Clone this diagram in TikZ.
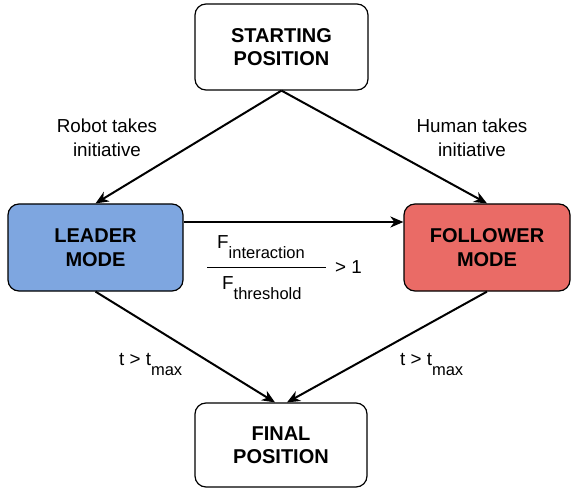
\documentclass[tikz,border=0pt]{standalone}
\usepackage{fontspec}
\setmainfont{Liberation Sans}
\usetikzlibrary{arrows.meta}
\definecolor{leaderblue}{HTML}{7EA6E0}
\definecolor{followerred}{HTML}{EA6B66}
\newcommand\subtxt[1]{\raisebox{-10pt}{\fontsize{16.5}{16.5}\selectfont #1}}
\tikzset{
  statebox/.style={draw=black, line width=1.2pt, rounded corners=11pt, inner sep=0pt,
    align=center, font=\fontsize{20}{23.5}\selectfont\bfseries},
  flow/.style={line width=2pt, -{Stealth[length=13pt,width=11pt,inset=4pt]}},
  lbl/.style={inner sep=0pt, align=center, font=\fontsize{18.8}{24}\selectfont},
  bar/.style={line width=1pt}
}
\begin{document}
\begin{tikzpicture}[x=1pt,y=-1pt]
\useasboundingbox (0,0) rectangle (573,489);
\node[statebox, fill=white, minimum width=173pt, minimum height=86pt] (start) at (281.5,47) {STARTING\\POSITION};
\node[statebox, fill=leaderblue, minimum width=175pt, minimum height=87pt] (leader) at (95.5,247.5) {LEADER\\MODE};
\node[statebox, fill=followerred, minimum width=166pt, minimum height=87pt] (follower) at (487,247.5) {FOLLOWER\\MODE};
\node[statebox, fill=white, minimum width=172pt, minimum height=84pt] (final) at (281,445) {FINAL\\POSITION};

\draw[flow] (start.south) -- (leader.north);
\draw[flow] (start.south) -- (follower.north);
\draw[flow] ([yshift=25.5pt]leader.east) -- ([yshift=25.5pt]follower.west);
\draw[flow] (leader.south) -- ([xshift=-6pt]final.north);
\draw[flow] (follower.south) -- ([xshift=6pt]final.north);

\node[lbl] (robot) at (107,138) {Robot takes\\initiative};
\node[lbl] (human) at (472,138) {Human takes\\initiative};

\node[lbl, anchor=base west] (num) at (217,248) {F\subtxt{interaction}};
\node[lbl, anchor=base west] (den) at (222,289) {F\subtxt{threshold}};
\coordinate (barl) at (207,267);
\coordinate (barr) at (326,267);
\draw[bar] (barl) -- (barr);
\node[lbl, anchor=west] (gt) at (335,267) {> 1};

\node[lbl, anchor=base west] (tl) at (119,365) {t > t\subtxt{max}};
\node[lbl, anchor=base west] (tr) at (400,365) {t > t\subtxt{max}};
\end{tikzpicture}
\end{document}
